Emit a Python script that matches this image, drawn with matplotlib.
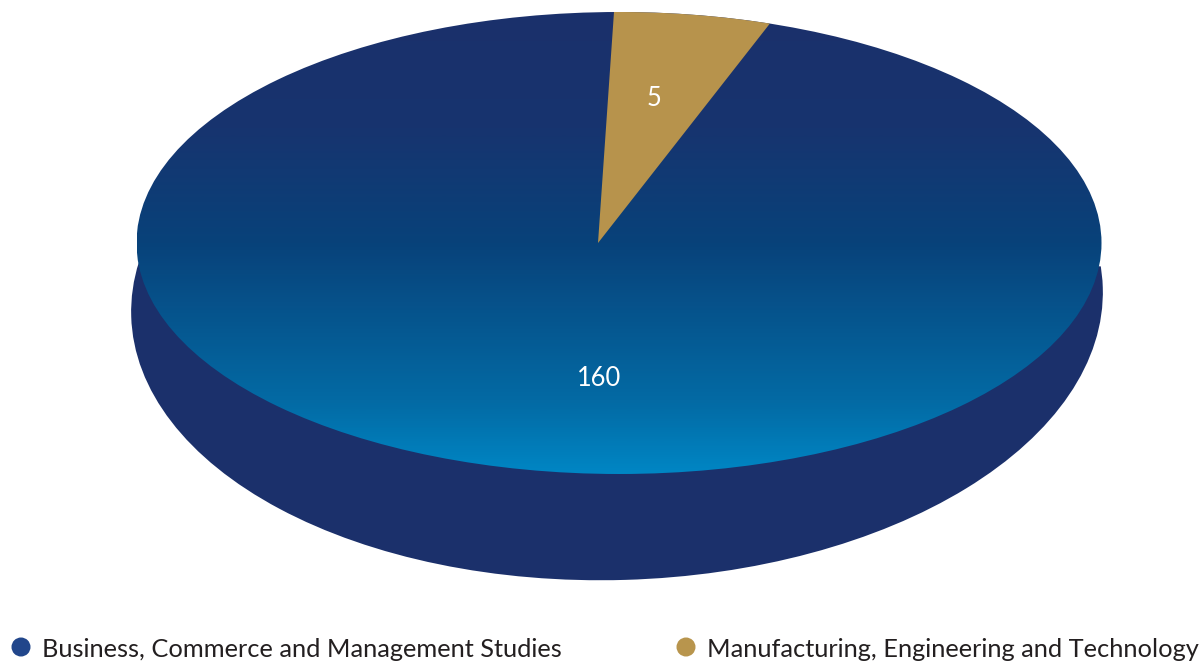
import numpy as np
import matplotlib
matplotlib.use("Agg")
import matplotlib.pyplot as plt
from matplotlib.colors import LinearSegmentedColormap
from matplotlib.patches import Ellipse, Polygon, Circle

# Programme counts per subject area
categories = ["Business, Commerce and Management Studies",
              "Manufacturing, Engineering and Technology"]
values = [160, 5]
value_labels = ["160", "5"]

NAVY = "#1b306b"
GOLD = "#b7934c"
LEGEND_COLORS = ["#21468b", "#b8954d"]
FACE_STOPS = [(0.0, "#1b306b"), (0.25, "#17346f"), (0.5, "#08427a"),
              (0.85, "#036ba5"), (1.0, "#0086c4")]

W, H = 1203, 661
fig = plt.figure(figsize=(W / 100, H / 100), dpi=100)
ax = fig.add_axes([0, 0, 1, 1])
ax.set_xlim(0, W)
ax.set_ylim(H, 0)
ax.axis("off")

# Tilted disc geometry, in figure pixels
cx, cy, rx, ry = 619, 243, 482.5, 231
apex_x, apex_y = 598, 243
start_angle = 1.9        # degrees clockwise from the vertical
slice_gain = 1.71        # the tilted view widens the small slice

# Rim of the disc, seen below the top face
rim = Ellipse((617, 302), 972, 556, angle=-1.7, facecolor=NAVY, edgecolor="none", zorder=1)
ax.add_patch(rim)
rim.set_clip_path(Polygon([(100, 253), (1150, 267), (1150, 640), (100, 640)],
                          transform=ax.transData))

# Top face with its vertical gradient
cmap = LinearSegmentedColormap.from_list("face", FACE_STOPS)
grad = np.linspace(0, 1, 462)[:, None]
img = ax.imshow(grad, cmap=cmap, extent=(cx - rx, cx + rx, cy + ry, cy - ry),
                aspect="auto", zorder=2, interpolation="bilinear")
ax.set_xlim(0, W)
ax.set_ylim(H, 0)
face = Ellipse((cx, cy), 2 * rx, 2 * ry, facecolor="none", edgecolor="none",
               transform=ax.transData)
ax.add_patch(face)
img.set_clip_path(face)


def rim_point(angle_deg):
    """Where a ray from the slice apex leaves the top face."""
    t = np.radians(angle_deg)
    ox, dx, dy = (apex_x - cx) / rx, np.sin(t), np.cos(t)
    b = ox * dx
    s = -b + np.sqrt(b * b - (ox * ox - 1))
    return cx + rx * (ox + s * dx), cy - ry * s * dy


# Small slice, sized from its share of the total
span = 360 * values[1] / sum(values) * slice_gain
angles = np.linspace(start_angle, start_angle + span, 60)
outline = [(apex_x, apex_y)] + [rim_point(a) for a in angles]
ax.add_patch(Polygon(outline, closed=True, facecolor=GOLD, edgecolor="none", zorder=3))

FONT = "Lato"
ax.text(599, 378.5, value_labels[0], color="white", fontsize=18.4, family=FONT,
        ha="center", va="center", zorder=4)
ax.text(654, 99, value_labels[1], color="white", fontsize=18.4, family=FONT,
        ha="center", va="center", zorder=4)

# Legend along the bottom edge
for x_dot, x_text, label, color in zip((21, 686), (42, 707), categories, LEGEND_COLORS):
    ax.add_patch(Circle((x_dot, 647), 9.5, facecolor=color, edgecolor="none", zorder=4))
    ax.text(x_text, 657, label, color="#231f20", fontsize=18.25, family=FONT,
            ha="left", va="baseline", zorder=4, clip_on=False)

fig.savefig("out.png", dpi=100, facecolor="white")
